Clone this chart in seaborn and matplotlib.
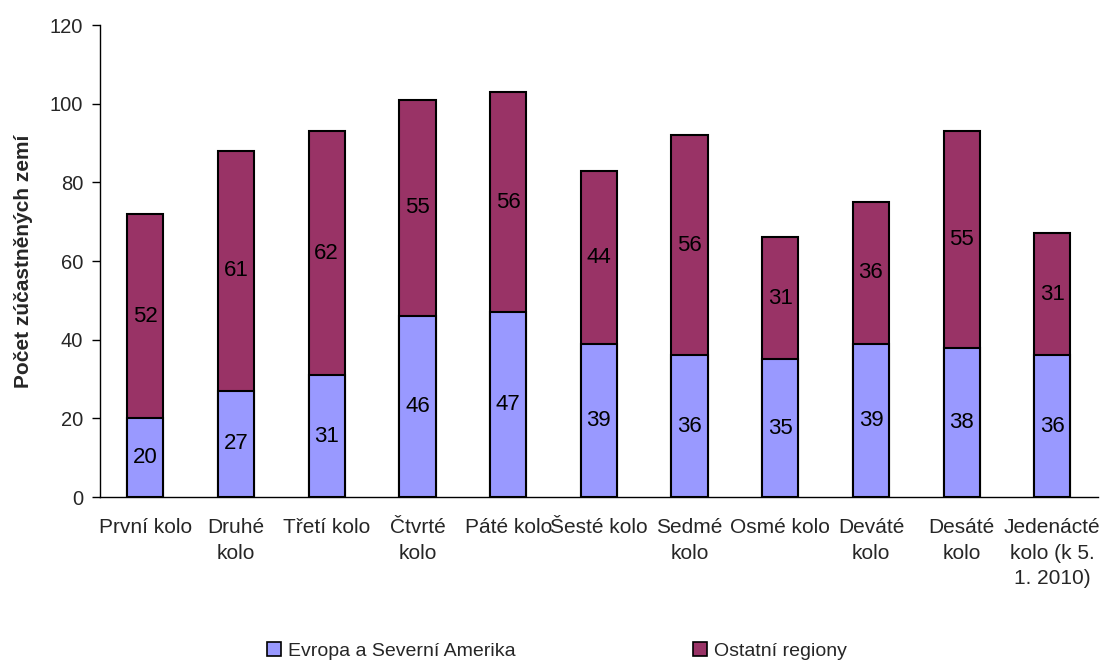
import matplotlib
matplotlib.use("Agg")
import matplotlib.pyplot as plt
from matplotlib.patches import Patch
import numpy as np
import pandas as pd
import seaborn as sns

# Participating countries per round
rounds = ["První kolo", "Druhé\nkolo", "Třetí kolo", "Čtvrté\nkolo", "Páté kolo",
          "Šesté kolo", "Sedmé\nkolo", "Osmé kolo", "Deváté\nkolo", "Desáté\nkolo",
          "Jedenácté\nkolo (k 5.\n1. 2010)"]
europe_na = [20, 27, 31, 46, 47, 39, 36, 35, 39, 38, 36]
other_regions = [52, 61, 62, 55, 56, 44, 56, 31, 36, 55, 31]

series_names = ["Evropa a Severní Amerika", "Ostatní regiony"]
colors = ["#9999FF", "#993366"]
y_ticks = [0, 20, 40, 60, 80, 100, 120]

sns.set_theme(style="white")
plt.rcParams["font.family"] = ["Liberation Sans", "DejaVu Sans"]

df = pd.DataFrame({"round": rounds,
                   "europe": europe_na,
                   "other": other_regions})
df["total"] = df["europe"] + df["other"]

fig = plt.figure(figsize=(11.01, 6.62), dpi=100)
ax = fig.add_axes([0.0908, 0.2492, 0.9062, 0.7130])

# stacked bars: full height in the top colour, lower segment drawn over it
sns.barplot(data=df, x="round", y="total", color=colors[1], width=0.4,
            edgecolor="black", linewidth=1.5, saturation=1, ax=ax)
sns.barplot(data=df, x="round", y="europe", color=colors[0], width=0.4,
            edgecolor="black", linewidth=1.5, saturation=1, ax=ax)

for i, (e, o) in enumerate(zip(europe_na, other_regions)):
    ax.text(i, e / 2, f"{e}", ha="center", va="center", fontsize=16, color="black")
    ax.text(i, e + o / 2, f"{o}", ha="center", va="center", fontsize=16, color="black")

ax.set_xlim(-0.5, len(rounds) - 0.5)
ax.set_ylim(0, 120)
ax.set_yticks(y_ticks)
ax.set_yticklabels([str(t) for t in y_ticks], fontsize=14.5)
ax.set_xticks(range(len(rounds)))
ax.set_xticklabels(rounds, fontsize=15, linespacing=1.45)
ax.set_xticks(np.arange(-0.5, len(rounds), 1.0), minor=True)
ax.tick_params(axis="x", which="major", length=0, pad=15)
ax.tick_params(axis="x", which="minor", length=6, width=1, color="black", direction="out")
ax.tick_params(axis="y", length=6, width=1, color="black", direction="out", left=True, pad=6)

ax.set_xlabel("")
ax.set_ylabel("Počet zúčastněných zemí", fontsize=15, fontweight="bold", labelpad=12)

for side in ["top", "right"]:
    ax.spines[side].set_visible(False)
for side in ["left", "bottom"]:
    ax.spines[side].set_color("black")
    ax.spines[side].set_linewidth(1)

handles = [Patch(facecolor=c, edgecolor="black", linewidth=1.2) for c in colors]
fig.legend(handles, series_names, loc="center", bbox_to_anchor=(0.506, 0.0166),
           ncol=2, frameon=False, fontsize=14, handlelength=0.7, handleheight=0.7,
           handletextpad=0.4, columnspacing=9.1)

fig.savefig("out.png", dpi=100)
